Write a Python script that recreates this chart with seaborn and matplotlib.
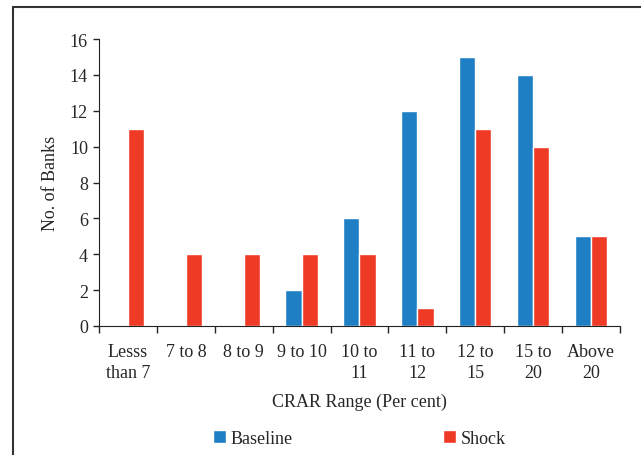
import seaborn as sns
import matplotlib.pyplot as plt
import pandas as pd
from matplotlib.lines import Line2D

ranges = ["Lesss\nthan 7", "7 to 8", "8 to 9", "9 to 10", "10 to\n11",
          "11 to\n12", "12 to\n15", "15 to\n20", "Above\n20"]
baseline = [0, 0, 0, 2, 6, 12, 15, 14, 5]
shock = [11, 4, 4, 4, 4, 1, 11, 10, 5]

df = pd.concat([
    pd.DataFrame({"range": ranges, "banks": baseline, "scenario": "Baseline"}),
    pd.DataFrame({"range": ranges, "banks": shock, "scenario": "Shock"}),
])

sns.set_style("ticks")
plt.rcParams["font.family"] = ["Liberation Serif", "DejaVu Serif"]
fs = 13

fig = plt.figure(figsize=(6.41, 4.56), dpi=100)
ax = fig.add_axes([0.1545, 0.283, 0.8125, 0.629])

sns.barplot(data=df, x="range", y="banks", hue="scenario", order=ranges,
            palette={"Baseline": "#1f7fc4", "Shock": "#ef3a25"},
            width=0.56, saturation=1, ax=ax)

ax.set_ylim(0, 16)
ax.set_yticks(range(0, 17, 2))
ax.set_xlim(-0.5, len(ranges) - 0.5)
ax.tick_params(axis="x", which="major", length=0, pad=12, labelsize=fs)
ax.set_xticks([i - 0.5 for i in range(len(ranges) + 1)], minor=True)
ax.tick_params(axis="x", which="minor", length=5, width=1, direction="out")
ax.tick_params(axis="y", length=4, width=1, labelsize=fs, pad=4)
for lab in ax.get_xticklabels():
    lab.set_linespacing(1.3)
ax.spines["top"].set_visible(False)
ax.spines["right"].set_visible(False)
ax.spines["left"].set_color("#222222")
ax.spines["bottom"].set_color("#222222")

ax.set_xlabel("CRAR Range (Per cent)", fontsize=fs, labelpad=9)
ax.set_ylabel("No. of Banks", fontsize=fs, labelpad=8)

ax.legend(loc="upper center", bbox_to_anchor=(0.50, -0.305), ncol=2, frameon=False,
          fontsize=fs, handlelength=0.75, handleheight=0.75, handletextpad=0.25,
          columnspacing=8.3)

# outer frame (left and top edges visible in the source)
fig.add_artist(Line2D([13 / 641, 13 / 641], [0, 448 / 456], color="#333333", lw=1.5))
fig.add_artist(Line2D([13 / 641, 1], [448 / 456, 448 / 456], color="#333333", lw=1.5))

plt.savefig("out.png", dpi=100)
